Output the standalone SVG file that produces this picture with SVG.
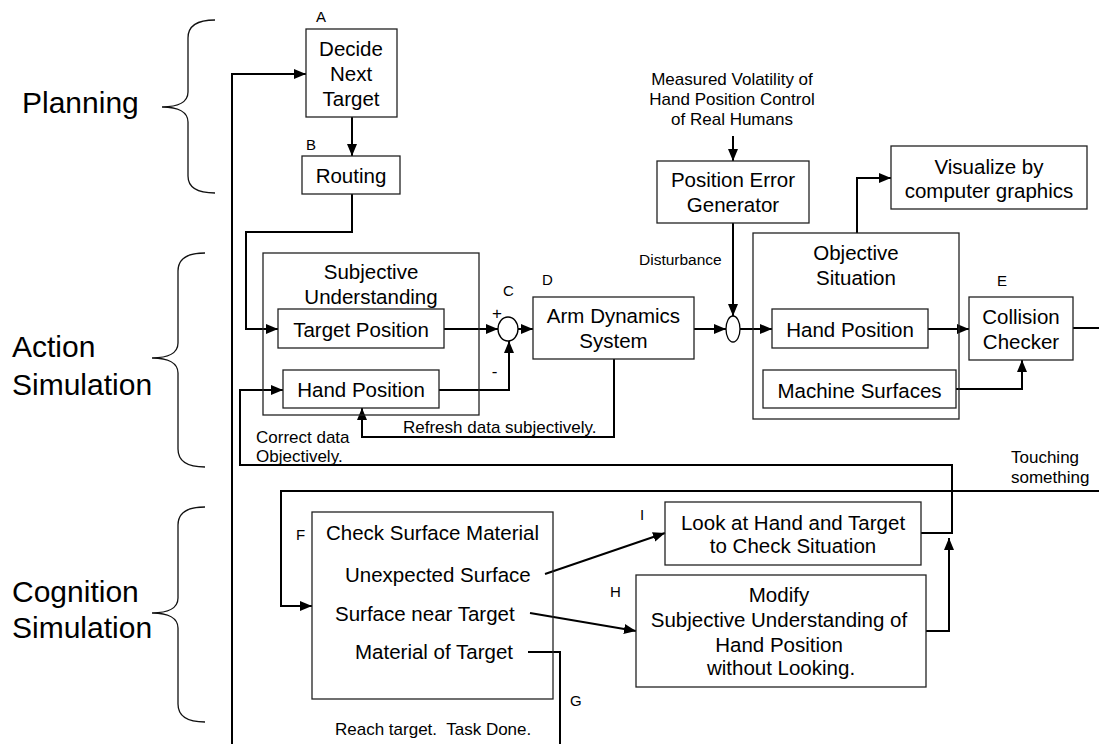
<svg xmlns="http://www.w3.org/2000/svg" width="1099" height="744" viewBox="0 0 1099 744">
<defs>
<marker id="arr" markerUnits="userSpaceOnUse" markerWidth="13" markerHeight="11" refX="12" refY="5.5" orient="auto">
<path d="M0,0.5 L12,5.5 L0,10.5 z" fill="#000"/>
</marker>
<style>
.box{fill:none;stroke:#222;stroke-width:1.3}
.cn{fill:none;stroke:#000;stroke-width:2}
.br{fill:none;stroke:#111;stroke-width:1.3}
text{font-family:"Liberation Sans",Arial,sans-serif;fill:#000}
.t{font-size:20.5px;text-anchor:middle}
.tl{font-size:20.5px}
.big{font-size:30px}
.lb{font-size:15px}
.sm{font-size:17px}
.smc{font-size:17px;text-anchor:middle}
</style>
</defs>
<rect width="1099" height="744" fill="#fff"/>

<g id="braces">
<path class="br" d="M215,20 C198,20 188,26 188,38 L188,92 C188,102 178,107 162,107 C178,107 188,112 188,122 L188,176 C188,188 198,193 215,193"/>
<path class="br" d="M205,253 C188,253 178,259 178,271 L178,343 C178,353 168,358 152,358 C168,358 178,363 178,373 L178,449 C178,461 188,467 205,467"/>
<path class="br" d="M205,507 C188,507 178,513 178,525 L178,598 C178,608 168,613 152,613 C168,613 178,618 178,628 L178,704 C178,716 188,722 205,722"/>
<text class="big" x="22" y="113">Planning</text>
<text class="big" x="12" y="357">Action</text>
<text class="big" x="12" y="395">Simulation</text>
<text class="big" x="12" y="602">Cognition</text>
<text class="big" x="12" y="638">Simulation</text>
</g>

<g id="connectors">
<path class="cn" d="M528,652 H560 V748 H232 V74 H306" marker-end="url(#arr)"/>
<path class="cn" d="M352,117 V156" marker-end="url(#arr)"/>
<path class="cn" d="M352,194 V232 H246 V329 H278" marker-end="url(#arr)"/>
<path class="cn" d="M444,329 H498" marker-end="url(#arr)"/>
<path class="cn" d="M439,390 H509 V341" marker-end="url(#arr)"/>
<path class="cn" d="M518,329 H533" marker-end="url(#arr)"/>
<path class="cn" d="M614,359 V437 H362 V408" marker-end="url(#arr)"/>
<path class="cn" d="M694,329 H726" marker-end="url(#arr)"/>
<path class="cn" d="M733,223 V316" marker-end="url(#arr)"/>
<path class="cn" d="M733,136 V161" marker-end="url(#arr)"/>
<path class="cn" d="M740,329 H772" marker-end="url(#arr)"/>
<path class="cn" d="M857,233 V178 H891" marker-end="url(#arr)"/>
<path class="cn" d="M928,329 H969" marker-end="url(#arr)"/>
<path class="cn" d="M956,389 H1022 V360" marker-end="url(#arr)"/>
<path class="cn" d="M1073,328 H1099"/>
<path class="cn" d="M1099,491 H281 V606 H312" marker-end="url(#arr)"/>
<path class="cn" d="M921,533 H952 V465 H240 V390 H283" marker-end="url(#arr)"/>
<path class="cn" d="M926,631 H949 V538" marker-end="url(#arr)"/>
<path class="cn" d="M545,574 L665,533" marker-end="url(#arr)"/>
<path class="cn" d="M530,613 L636,631" marker-end="url(#arr)"/>
<text class="sm" x="403" y="433">Refresh data subjectively.</text>
<text class="sm" x="256" y="443">Correct data</text>
<text class="sm" x="256" y="462">Objectively.</text>
<text x="639" y="265" style="font-size:15.5px">Disturbance</text>
<text class="sm" x="1011" y="463">Touching</text>
<text class="sm" x="1011" y="483">something</text>
<text class="sm" x="335" y="735" style="white-space:pre">Reach target.  Task Done.</text>
<text class="smc" x="732" y="85">Measured Volatility of</text>
<text class="smc" x="732" y="105">Hand Position Control</text>
<text class="smc" x="732" y="125">of Real Humans</text>
</g>

<g id="nodeA">
<rect class="box" x="306" y="29" width="91" height="88"/>
<text class="lb" x="316" y="22">A</text>
<text class="t" x="351" y="56">Decide</text>
<text class="t" x="351" y="81">Next</text>
<text class="t" x="351" y="106">Target</text>
</g>

<g id="nodeB">
<rect class="box" x="302" y="156" width="98" height="38"/>
<text class="lb" x="306" y="150">B</text>
<text class="t" x="351" y="183">Routing</text>
</g>

<g id="subjective">
<rect class="box" x="263" y="253" width="216" height="162"/>
<text class="t" x="371" y="279">Subjective</text>
<text class="t" x="371" y="304">Understanding</text>
</g>

<g id="targetPos">
<rect class="box" x="278" y="309" width="166" height="39"/>
<text class="t" x="361" y="337">Target Position</text>
</g>

<g id="handPosSubj">
<rect class="box" x="283" y="370" width="156" height="38"/>
<text class="t" x="361" y="397">Hand Position</text>
</g>

<g id="nodeC">
<ellipse cx="508" cy="329" rx="10" ry="12" fill="#fff" stroke="#000" stroke-width="1.3"/>
<text class="lb" x="503" y="296">C</text>
<text x="497" y="319" style="font-size:17px;text-anchor:middle">+</text>
<text x="494.5" y="377" style="font-size:17px;text-anchor:middle">-</text>
</g>

<g id="nodeD">
<rect class="box" x="533" y="297" width="161" height="62"/>
<text class="lb" x="542" y="285">D</text>
<text class="t" x="613.5" y="323">Arm Dynamics</text>
<text class="t" x="613.5" y="348">System</text>
</g>

<g id="disturbanceJunction">
<ellipse cx="733" cy="329" rx="7" ry="13" fill="#fff" stroke="#000" stroke-width="1.3"/>
</g>

<g id="peg">
<rect class="box" x="657" y="161" width="152" height="62"/>
<text class="t" x="733" y="187">Position Error</text>
<text class="t" x="733" y="212">Generator</text>
</g>

<g id="visualize">
<rect class="box" x="891" y="146" width="196" height="63"/>
<text class="t" x="989" y="174">Visualize by</text>
<text class="t" x="989" y="198">computer graphics</text>
</g>

<g id="objective">
<rect class="box" x="753" y="233" width="206" height="186"/>
<text class="t" x="856" y="260">Objective</text>
<text class="t" x="856" y="285">Situation</text>
</g>

<g id="handPosObj">
<rect class="box" x="772" y="309" width="156" height="39"/>
<text class="t" x="850" y="337">Hand Position</text>
</g>

<g id="machineSurfaces">
<rect class="box" x="763" y="370" width="193" height="38"/>
<text class="t" x="859.5" y="398">Machine Surfaces</text>
</g>

<g id="nodeE">
<rect class="box" x="969" y="297" width="104" height="63"/>
<text class="lb" x="997" y="286">E</text>
<text class="t" x="1021" y="324">Collision</text>
<text class="t" x="1021" y="349">Checker</text>
</g>

<g id="nodeF">
<rect class="box" x="312" y="512" width="241" height="187"/>
<text class="lb" x="296" y="540">F</text>
<text class="t" x="432.5" y="540">Check Surface Material</text>
<text class="tl" x="345" y="582">Unexpected Surface</text>
<text class="tl" x="335" y="621">Surface near Target</text>
<text class="tl" x="355" y="659">Material of Target</text>
</g>

<g id="nodeG">
<text class="lb" x="570" y="706">G</text>
</g>

<g id="nodeI">
<rect class="box" x="665" y="502" width="256" height="63"/>
<text class="lb" x="640" y="520">I</text>
<text class="t" x="793" y="530">Look at Hand and Target</text>
<text class="t" x="793" y="553">to Check Situation</text>
</g>

<g id="nodeH">
<rect class="box" x="636" y="575" width="290" height="112"/>
<text class="lb" x="610" y="597">H</text>
<text class="t" x="779" y="602">Modify</text>
<text class="t" x="779" y="627">Subjective Understanding of</text>
<text class="t" x="779" y="652">Hand Position</text>
<text class="t" x="781" y="675">without Looking.</text>
</g>
</svg>
